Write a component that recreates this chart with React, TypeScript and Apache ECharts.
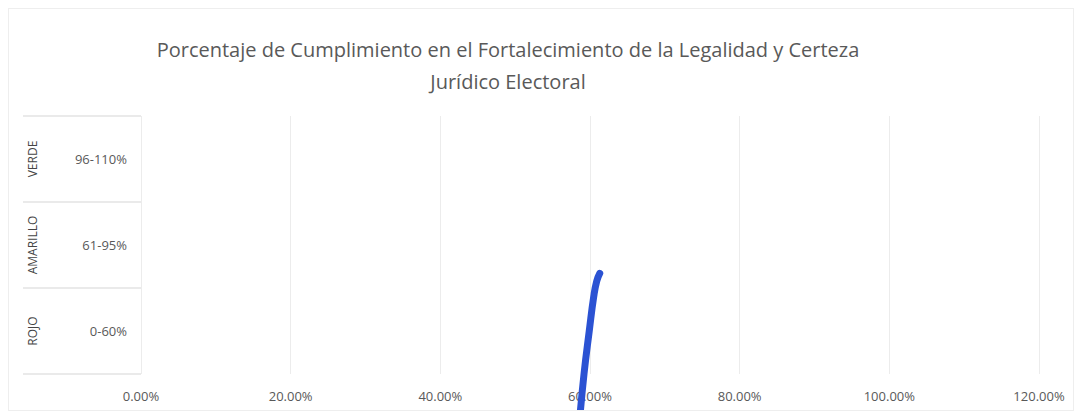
import React, { useEffect, useRef } from "react";
import * as echarts from "echarts";

const titleLines = [
  "Porcentaje de Cumplimiento en el Fortalecimiento de la Legalidad y Certeza",
  "Jurídico Electoral",
];
const rangeLabels = ["0-60%", "61-95%", "96-110%"];
const groupLabels = ["ROJO", "AMARILLO", "VERDE"];
const bandEdges = [0, 1, 2, 3];
const xTicks = [0, 0.2, 0.4, 0.6, 0.8, 1.0, 1.2];
// stroke drawn on chart: [x (fraction), y (band units, 0 = bottom of ROJO)]
const strokeX = [0.586, 0.592, 0.599, 0.605, 0.609, 0.613];
const strokeY = [-0.55, 0, 0.5, 0.9, 1.08, 1.17];

export default function App() {
  const ref = useRef<HTMLDivElement>(null);
  useEffect(() => {
    if (!ref.current) return;
    const chart = echarts.init(ref.current, undefined, { renderer: "svg" });
    const font = "Open Sans";
    const noLine = { show: false };
    chart.setOption({
      animation: false,
      backgroundColor: "#ffffff",
      title: {
        text: titleLines.join("\n"),
        left: 494,
        textAlign: "center",
        top: 19,
        textStyle: {
          fontFamily: font,
          fontSize: 20,
          fontWeight: "normal",
          color: "#595959",
          lineHeight: 32,
        },
      },
      grid: [
        { left: 132, right: 34, top: 107, bottom: 36, show: false },
        { left: 14, width: 118, top: 107, bottom: 36, show: false },
      ],
      xAxis: [
        {
          type: "value",
          gridIndex: 0,
          min: xTicks[0],
          max: xTicks[xTicks.length - 1],
          interval: 0.2,
          axisLine: noLine,
          axisTick: { show: false },
          splitLine: { show: true, lineStyle: { color: "#ececec", width: 1 } },
          axisLabel: {
            formatter: (v: number) => (v * 100).toFixed(2) + "%",
            fontFamily: font,
            fontSize: 13,
            color: "#595959",
            margin: 15,
          },
        },
        { type: "value", gridIndex: 1, min: 0, max: 1, show: false, splitLine: { show: false } },
      ],
      yAxis: [
        {
          type: "category",
          gridIndex: 0,
          data: rangeLabels,
          position: "left",
          axisLine: noLine,
          axisTick: { show: false },
          axisLabel: {
            fontFamily: font,
            fontSize: 13,
            color: "#595959",
            margin: 14,
          },
          splitLine: { show: false },
        },
        {
          type: "category",
          gridIndex: 0,
          data: groupLabels,
          position: "left",
          offset: 103,
          axisLine: noLine,
          axisTick: { show: false },
          splitLine: { show: false },
          axisLabel: {
            rotate: 90,
            fontFamily: font,
            fontSize: 12,
            color: "#454545",
            margin: 0,
          },
        },
        {
          type: "value",
          gridIndex: 0,
          min: 0,
          max: 3,
          show: false,
          splitLine: { show: false },
        },
        {
          type: "value",
          gridIndex: 1,
          min: 0,
          max: 3,
          show: false,
          splitLine: { show: false },
        },
      ],
      series: [
        {
          type: "line",
          xAxisIndex: 0,
          yAxisIndex: 2,
          smooth: true,
          clip: false,
          showSymbol: false,
          symbol: "none",
          data: strokeX.map((x, i) => [x, strokeY[i]]),
          lineStyle: { color: "#2b52d3", width: 7, cap: "round" },
          silent: true,
        },
        {
          type: "line",
          xAxisIndex: 1,
          yAxisIndex: 3,
          data: [],
          silent: true,
          markLine: {
            silent: true,
            symbol: ["none", "none"],
            label: { show: false },
            lineStyle: { color: "#eaeaea", width: 2, type: "solid" },
            data: bandEdges.map((v) => ({ yAxis: v })),
          },
        },
      ],
    });
    return () => chart.dispose();
  }, []);
  return (
    <div
      ref={ref}
      style={{ width: 1066, height: 403, boxSizing: "border-box", border: "1px solid #eeeeee" }}
    />
  );
}
